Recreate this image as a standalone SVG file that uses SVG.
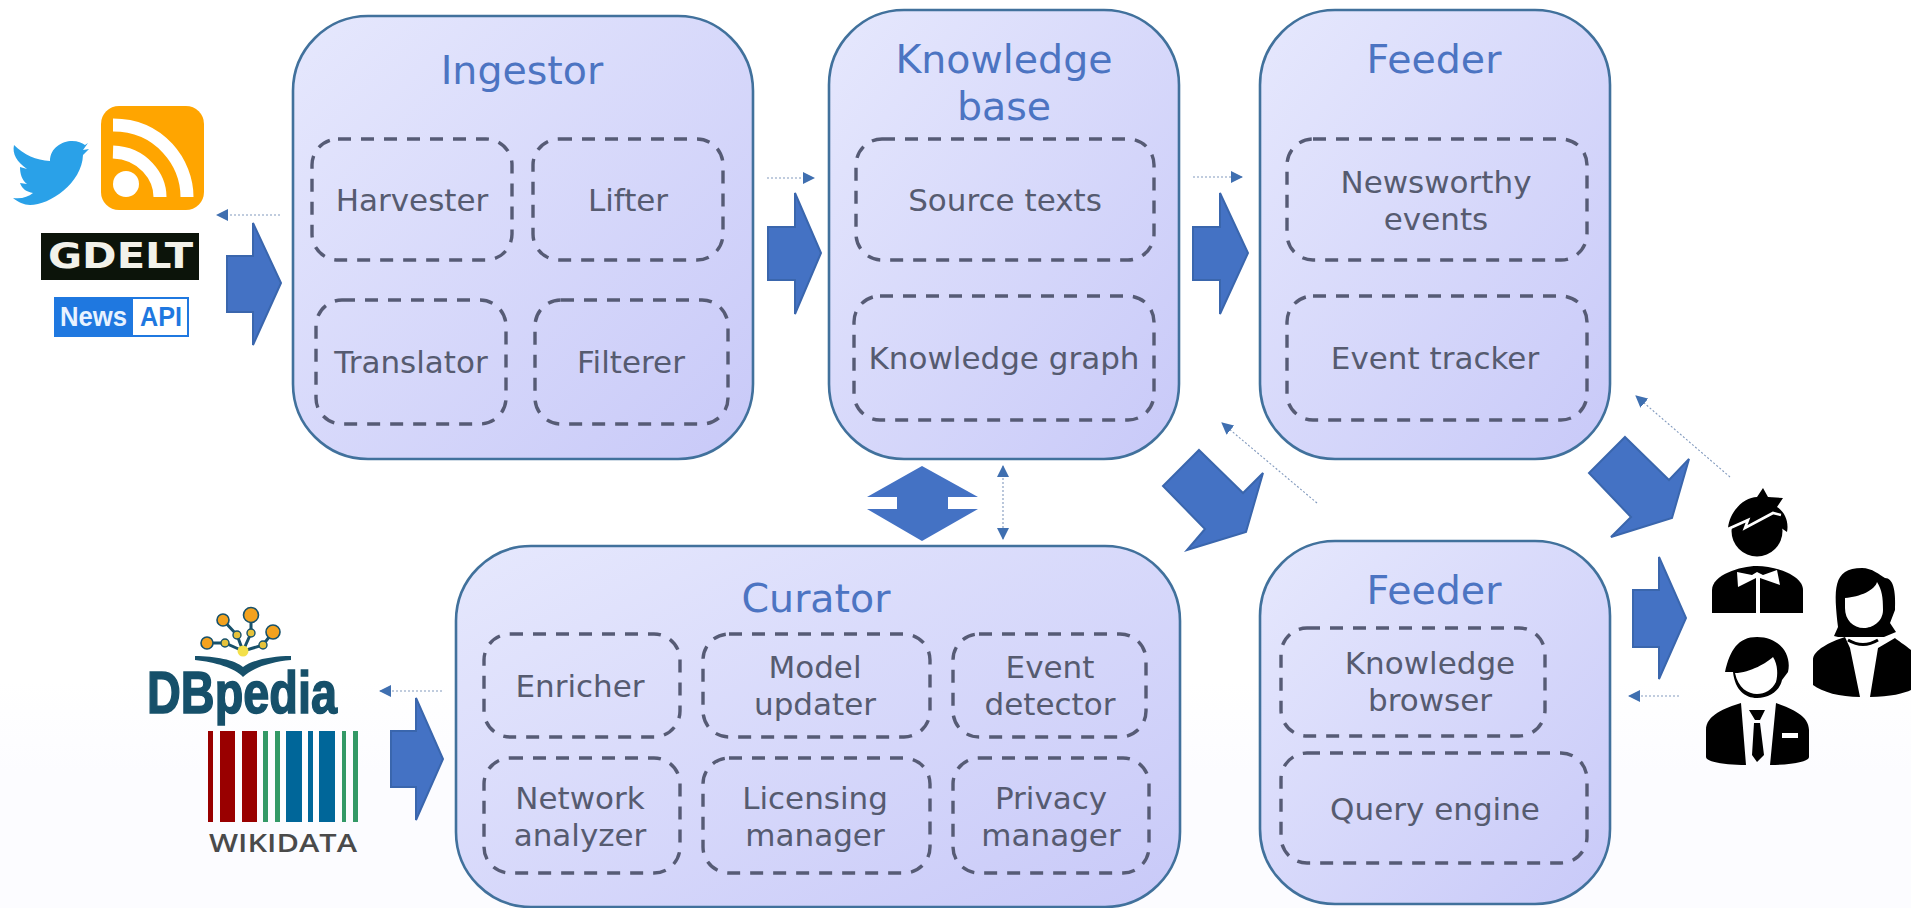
<svg xmlns="http://www.w3.org/2000/svg" width="1911" height="908" viewBox="0 0 1911 908">
<style>
.n{stroke:#41719c;stroke-width:2.6}
.d{fill:none;stroke:#565b75;stroke-width:3.4;stroke-dasharray:13 10}
.t{font:39.5px "DejaVu Sans",sans-serif;fill:#4c74c2;text-anchor:middle}
.l{font:31px "DejaVu Sans",sans-serif;fill:#565b70;text-anchor:middle}
.a{fill:#4472c4;stroke:#3a66ad;stroke-width:2}
.th{stroke:#8199bd;stroke-width:1.1;stroke-dasharray:2 2;fill:none}
</style>
<defs>
<linearGradient id="g" x1="0" y1="0" x2="1" y2="1"><stop offset="0" stop-color="#e6e8fd"/><stop offset="1" stop-color="#c8c9f8"/></linearGradient>
<linearGradient id="bg" x1="0" y1="0" x2="0" y2="1"><stop offset="0" stop-color="#fff"/><stop offset="0.75" stop-color="#fff"/><stop offset="0.85" stop-color="#fcfcff"/><stop offset="1" stop-color="#fcfcff"/></linearGradient>
<marker id="m" markerUnits="userSpaceOnUse" markerWidth="12" markerHeight="12" refX="11" refY="6" orient="auto-start-reverse"><path d="M0 0L12 6L0 12Z" fill="#3f6fb0"/></marker>
</defs>
<rect width="1911" height="908" fill="url(#bg)"/>
<g id="connectors">
<path class="a" d="M227 256H253V223L281 283L253 345V312H227Z"/>
<path class="a" d="M768 227H795V193L821 253L795 314V280H768Z"/>
<path class="a" d="M1193 227H1220V193L1248 253L1220 314V280H1193Z"/>
<path class="a" d="M391 731H416V698L443 759L416 820V787H391Z"/>
<path class="a" d="M1633 590H1659V557L1686 618L1659 679V647H1633Z"/>
<path class="a" d="M1199 450L1243 493L1263 473L1246 532L1187 550L1205 529L1163 486Z"/>
<path class="a" d="M1625 437L1669 480L1689 459L1672 518L1611 537L1631 517L1589 473Z"/>
<path fill="#4472c4" d="M922 466L978 497H948V509H978L922 541L867 509H897V497H867Z"/>
<path class="th" marker-end="url(#m)" d="M280 215H217"/>
<path class="th" marker-end="url(#m)" d="M767 178H814"/>
<path class="th" marker-end="url(#m)" d="M1193 177H1242"/>
<path class="th" marker-end="url(#m)" d="M442 691H380"/>
<path class="th" marker-end="url(#m)" d="M1679 696H1629"/>
<path class="th" marker-end="url(#m)" d="M1730 477L1636 396"/>
<path class="th" marker-end="url(#m)" d="M1317 503L1222 423"/>
<path class="th" marker-start="url(#m)" marker-end="url(#m)" d="M1003 466V539"/>
</g>
<g id="ingestor">
<rect class="n" x="293" y="16" width="460" height="443" rx="75" fill="url(#g)"/>
<text class="t" x="522" y="84">Ingestor</text>
<rect class="d" x="312" y="139" width="200" height="121" rx="26"/><text class="l" x="412" y="211">Harvester</text>
<rect class="d" x="533" y="139" width="190" height="121" rx="26"/><text class="l" x="628" y="211">Lifter</text>
<rect class="d" x="316" y="300" width="190" height="124" rx="26"/><text class="l" x="411" y="373">Translator</text>
<rect class="d" x="535" y="300" width="193" height="124" rx="26"/><text class="l" x="631" y="373">Filterer</text>
</g>
<g id="knowledge-base">
<rect class="n" x="829" y="10" width="350" height="449" rx="75" fill="url(#g)"/>
<text class="t" x="1004" y="73">Knowledge</text><text class="t" x="1004" y="120">base</text>
<rect class="d" x="856" y="139" width="298" height="121" rx="26"/><text class="l" x="1005" y="211">Source texts</text>
<rect class="d" x="854" y="296" width="300" height="124" rx="26"/><text class="l" x="1004" y="369">Knowledge graph</text>
</g>
<g id="feeder-1">
<rect class="n" x="1260" y="10" width="350" height="449" rx="75" fill="url(#g)"/>
<text class="t" x="1434" y="73">Feeder</text>
<rect class="d" x="1287" y="139" width="300" height="121" rx="26"/><text class="l" x="1436" y="193">Newsworthy</text><text class="l" x="1436" y="230">events</text>
<rect class="d" x="1287" y="296" width="300" height="124" rx="26"/><text class="l" x="1435" y="369">Event tracker</text>
</g>
<g id="curator">
<rect class="n" x="456" y="546" width="724" height="361" rx="75" fill="url(#g)"/>
<text class="t" x="816" y="612">Curator</text>
<rect class="d" x="484" y="634" width="196" height="103" rx="26"/><text class="l" x="580" y="697">Enricher</text>
<rect class="d" x="703" y="634" width="227" height="103" rx="26"/><text class="l" x="815" y="678">Model</text><text class="l" x="815" y="715">updater</text>
<rect class="d" x="953" y="634" width="193" height="103" rx="26"/><text class="l" x="1050" y="678">Event</text><text class="l" x="1050" y="715">detector</text>
<rect class="d" x="484" y="758" width="196" height="115" rx="26"/><text class="l" x="580" y="809">Network</text><text class="l" x="580" y="846">analyzer</text>
<rect class="d" x="703" y="758" width="227" height="115" rx="26"/><text class="l" x="815" y="809">Licensing</text><text class="l" x="815" y="846">manager</text>
<rect class="d" x="953" y="758" width="196" height="115" rx="26"/><text class="l" x="1051" y="809">Privacy</text><text class="l" x="1051" y="846">manager</text>
</g>
<g id="feeder-2">
<rect class="n" x="1260" y="541" width="350" height="363" rx="75" fill="url(#g)"/>
<text class="t" x="1434" y="604">Feeder</text>
<rect class="d" x="1281" y="628" width="264" height="108" rx="26"/><text class="l" x="1430" y="674">Knowledge</text><text class="l" x="1430" y="711">browser</text>
<rect class="d" x="1281" y="753" width="306" height="110" rx="26"/><text class="l" x="1435" y="820">Query engine</text>
</g>
<g id="sources">
<path fill="#2aa1e8" d="M14 145C24 155 36 160 50 161C50 148 62 141 72 141C78 141 82 143 85 145L88 143L83 150L89 149L83 155C82 183 50 205 30 205C24 205 18 202 13 198C22 199 28 197 33 193C27 192 22 189 20 183L27 184C22 180 20 174 20 167L27 169C17 162 12 154 14 145Z"/>
<rect x="101" y="106" width="103" height="104" rx="18" fill="#ffa500"/>
<circle cx="126" cy="184" r="13" fill="#fff"/>
<path fill="none" stroke="#fff" stroke-width="13" d="M113 152C143 153 160 177 160 197"/>
<path fill="none" stroke="#fff" stroke-width="13" d="M113 125C160 125 187 163 187 197"/>
<rect x="41" y="233" width="158" height="47" fill="#0c140a"/>
<text x="48" y="268" textLength="145" lengthAdjust="spacingAndGlyphs" style="font:bold 36px 'DejaVu Sans',sans-serif;fill:#f2f2ea">GDELT</text>
<rect x="54" y="297" width="135" height="40" fill="#1f78e0"/>
<rect x="133" y="299" width="54" height="36" fill="#fff"/>
<text x="60" y="326" textLength="67" lengthAdjust="spacingAndGlyphs" style="font:bold 27px 'Liberation Sans',sans-serif;fill:#e8f2ff">News</text>
<text x="140" y="326" textLength="42" lengthAdjust="spacingAndGlyphs" style="font:bold 27px 'Liberation Sans',sans-serif;fill:#1f78e0">API</text>
</g>
<g id="knowledge-sources">
<g fill="none" stroke="#17516b" stroke-width="3"><path d="M243 651L237 635L223 620M243 651L251 633V615M243 651L263 645L273 632M243 651L225 643H207"/></g>
<g fill="#f3a21f" stroke="#17516b" stroke-width="1.6"><circle cx="223" cy="620" r="6"/><circle cx="251" cy="615" r="7.5"/><circle cx="273" cy="632" r="7"/><circle cx="207" cy="643" r="6"/></g>
<g fill="#e6c23a" stroke="#17516b" stroke-width="1.4"><circle cx="225" cy="643" r="4"/><circle cx="237" cy="635" r="4"/><circle cx="251" cy="633" r="4"/><circle cx="263" cy="645" r="4"/></g>
<circle cx="243" cy="651" r="5.5" fill="#f3e04a"/>
<path fill="#17516b" d="M195 656C215 656 235 660 243 667C252 660 272 656 291 656V660C270 662 252 668 243 677C235 668 215 662 195 660Z"/>
<text x="147" y="713" textLength="190" lengthAdjust="spacingAndGlyphs" stroke="#16506a" stroke-width="1.6" style="font:bold 60px 'Liberation Sans',sans-serif;fill:#16506a">DBpedia</text>
<g fill="#990000"><rect x="208" y="731" width="5" height="91"/><rect x="220" y="731" width="15" height="91"/><rect x="242" y="731" width="15" height="91"/></g>
<g fill="#339966"><rect x="263" y="731" width="5" height="91"/><rect x="275" y="731" width="5" height="91"/><rect x="342" y="731" width="4" height="91"/><rect x="353" y="731" width="5" height="91"/></g>
<g fill="#006699"><rect x="286" y="731" width="16" height="91"/><rect x="308" y="731" width="5" height="91"/><rect x="319" y="731" width="16" height="91"/></g>
<text x="209" y="852" textLength="148" lengthAdjust="spacingAndGlyphs" style="font:600 26px 'Open Sans',sans-serif;fill:#4a4a4a">WIKIDATA</text>
</g>
<g id="users">
<circle cx="1757" cy="531" r="25.5"/>
<path d="M1728 528C1730 510 1745 497 1757 497L1763 488L1768 497L1783 498L1777 507C1785 512 1789 522 1787 532L1770 520L1740 525Z"/>
<path fill="none" stroke="#fff" stroke-width="2.6" d="M1728 529L1748 520L1745 528L1773 513L1781 515"/>
<path d="M1712 613V590C1712 575 1740 566 1757 566C1775 566 1803 575 1803 590V613Z"/>
<path fill="#fff" d="M1737 572L1752 575L1757 572L1763 575L1777 570L1780 585L1760 578V613H1756V578L1738 587Z"/>
<path d="M1834 636L1838 627C1834 590 1832 568 1862 568C1872 568 1880 575 1885 578C1893 578 1896 590 1895 610L1890 623L1896 632L1884 637H1838Z"/>
<path fill="#fff" d="M1845 598C1860 597 1875 590 1877 582C1882 590 1883 597 1883 610C1883 622 1872 628 1864 628C1853 628 1845 620 1845 608Z"/>
<path d="M1813 685V660C1813 650 1830 642 1845 637L1850 648L1860 697C1840 697 1822 692 1813 685ZM1878 648L1870 697C1890 697 1905 693 1911 690V650C1905 645 1897 640 1895 638Z"/>
<path fill="none" stroke="#000" stroke-width="3" d="M1848 640Q1863 649 1878 640"/>
<path d="M1725 672C1730 650 1738 637 1757 637C1780 637 1792 655 1788 672L1782 680C1780 690 1770 698 1757 698C1745 698 1735 690 1733 672Z"/>
<path fill="#fff" d="M1735 673C1750 673 1768 662 1773 657C1778 665 1778 675 1776 682C1772 690 1765 694 1757 694C1748 694 1738 688 1735 673Z"/>
<path d="M1706 757V730C1706 715 1725 708 1741 703L1746 765C1725 765 1706 762 1706 757ZM1809 757V730C1809 715 1790 708 1776 703L1770 765C1790 765 1809 762 1809 757Z"/>
<path d="M1749 710H1765L1760 720H1755ZM1754 723H1760L1764 755L1757 762L1752 755Z"/>
<rect x="1782" y="733" width="16" height="5" fill="#fff"/>
</g>
</svg>
